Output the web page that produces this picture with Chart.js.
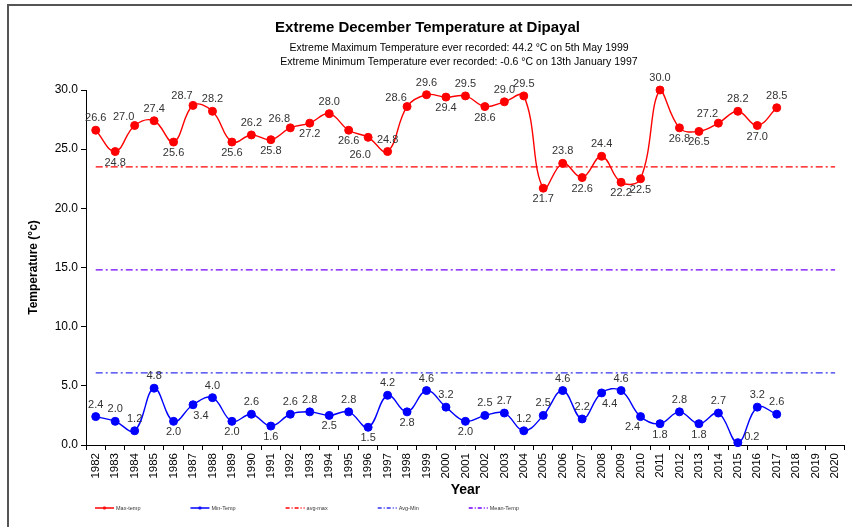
<!DOCTYPE html>
<html>
<head>
<meta charset="utf-8">
<script src="https://cdn.jsdelivr.net/npm/chart.js@4.4.1/dist/chart.umd.min.js"></script>
<style>
  html, body { margin: 0; padding: 0; background: #fff; }
</style>
</head>
<body>
<canvas id="myChart" width="852" height="527"></canvas>
<script>
const years = ['1982','1983','1984','1985','1986','1987','1988','1989','1990','1991',
  '1992','1993','1994','1995','1996','1997','1998','1999','2000','2001',
  '2002','2003','2004','2005','2006','2007','2008','2009','2010','2011',
  '2012','2013','2014','2015','2016','2017','2018','2019','2020'];

const maxTemp = [26.6, 24.8, 27.0, 27.4, 25.6, 28.7, 28.2, 25.6, 26.2, 25.8,
  26.8, 27.2, 28.0, 26.6, 26.0, 24.8, 28.6, 29.6, 29.4, 29.5,
  28.6, 29.0, 29.5, 21.7, 23.8, 22.6, 24.4, 22.2, 22.5, 30.0,
  26.8, 26.5, 27.2, 28.2, 27.0, 28.5];

const minTemp = [2.4, 2.0, 1.2, 4.8, 2.0, 3.4, 4.0, 2.0, 2.6, 1.6,
  2.6, 2.8, 2.5, 2.8, 1.5, 4.2, 2.8, 4.6, 3.2, 2.0,
  2.5, 2.7, 1.2, 2.5, 4.6, 2.2, 4.4, 4.6, 2.4, 1.8,
  2.8, 1.8, 2.7, 0.2, 3.2, 2.6];

const avgMax = 23.5;
const avgMin = 6.1;
const meanTemp = 14.8;

const yTicks = [0, 5, 10, 15, 20, 25, 30];

const chartTitle = 'Extreme December Temperature at Dipayal';
const subtitles = [
  'Extreme Maximum Temperature ever recorded: 44.2 \u00b0C on 5th May 1999',
  'Extreme Minimum Temperature ever recorded: -0.6 \u00b0C on 13th January 1997'
];

// where each value label sits next to its point
const maxLabelPos = ['a','b','al','a','b','al','a','b','a','b',
  'al','b','a','b','lb','a','al','a','b','a',
  'b','a','a','b','a','b','a','b','b','a',
  'b','b','al','a','b','a'];
const minLabelPos = ['a','a','a','a','b','br','a','b','a','b',
  'a','a','b','a','b','a','b','a','a','b',
  'a','a','a','a','a','a','br','a','bl','b',
  'a','b','a','r','a','a'];

const labelShift = { a: [0, -12], b: [0, 11], al: [-11, -9], bl: [-8, 10], lb: [-8, 18], br: [8, 11], r: [14, -6] };

const FONT = '"Liberation Sans", Arial, sans-serif';
Chart.defaults.font.family = FONT;
Chart.defaults.color = '#000';

const pointLabels = {
  id: 'pointLabels',
  afterDatasetsDraw(chart) {
    const ctx = chart.ctx;
    ctx.save();
    ctx.font = '11px ' + FONT;
    ctx.fillStyle = '#333';
    ctx.textAlign = 'center';
    ctx.textBaseline = 'middle';
    chart.data.datasets.forEach((ds, i) => {
      if (!ds.labelPos) return;
      chart.getDatasetMeta(i).data.forEach((pt, j) => {
        const s = labelShift[ds.labelPos[j]];
        ctx.fillText(ds.data[j].toFixed(1), pt.x + s[0], pt.y + s[1]);
      });
    });
    ctx.restore();
  }
};

const extras = {
  id: 'extras',
  afterDraw(chart) {
    const ctx = chart.ctx;
    ctx.save();
    // frame
    ctx.strokeStyle = '#555';
    ctx.lineWidth = 2;
    ctx.beginPath();
    ctx.moveTo(8, 527);
    ctx.lineTo(8, 5);
    ctx.lineTo(852, 5);
    ctx.stroke();

    // subtitles
    ctx.fillStyle = '#000';
    ctx.font = '10.5px ' + FONT;
    ctx.textAlign = 'center';
    ctx.textBaseline = 'middle';
    subtitles.forEach((t, i) => ctx.fillText(t, 459, 48 + i * 14));

    // legend
    ctx.font = '5.5px ' + FONT;
    ctx.textAlign = 'left';
    let x = 95;
    const y = 508;
    chart.data.datasets.forEach(ds => {
      ctx.globalAlpha = 0.75;
      ctx.strokeStyle = ds.borderColor;
      ctx.lineWidth = 2;
      ctx.setLineDash(ds.borderDash ? [4, 2, 1, 2] : []);
      ctx.beginPath();
      ctx.moveTo(x, y);
      ctx.lineTo(x + 19, y);
      ctx.stroke();
      ctx.setLineDash([]);
      if (ds.pointRadius) {
        ctx.fillStyle = ds.borderColor;
        ctx.beginPath();
        ctx.arc(x + 9.5, y, 1.8, 0, Math.PI * 2);
        ctx.fill();
      }
      ctx.globalAlpha = 1;
      ctx.fillStyle = '#333';
      ctx.fillText(ds.label, x + 21, y);
      x += 21 + ctx.measureText(ds.label).width + 50;
    });
    ctx.restore();
  }
};

const lineSet = (label, data, color, extra) => Object.assign({
  label: label,
  data: data,
  borderColor: color,
  backgroundColor: color,
  borderWidth: 1.4,
  pointRadius: 4,
  pointHoverRadius: 4,
  pointBorderWidth: 1,
  tension: 0.4,
  clip: false
}, extra);

const refSet = (label, value, color) => ({
  label: label,
  data: years.map(() => value),
  borderColor: color,
  borderWidth: 1.2,
  borderDash: [7, 3, 2, 3],
  pointRadius: 0,
  pointHoverRadius: 0,
  tension: 0
});

new Chart(document.getElementById('myChart').getContext('2d'), {
  type: 'line',
  data: {
    labels: years,
    datasets: [
      lineSet('Max-temp', maxTemp, '#ff0000', { labelPos: maxLabelPos }),
      lineSet('Min-Temp', minTemp, '#0000ff', { labelPos: minLabelPos }),
      refSet('avg-max', avgMax, '#ff0000'),
      refSet('Avg-Min', avgMin, '#3333ee'),
      refSet('Mean-Temp', meanTemp, '#7000ff')
    ]
  },
  options: {
    responsive: false,
    animation: false,
    devicePixelRatio: 1,
    layout: { padding: { left: 10, right: 7, top: 0, bottom: 27 } },
    plugins: {
      legend: { display: false },
      tooltip: { enabled: false },
      title: {
        display: true,
        text: chartTitle,
        color: '#000',
        font: { size: 15, weight: 'bold' },
        padding: { top: 19, bottom: 53 }
      }
    },
    scales: {
      x: {
        offset: true,
        grid: { drawOnChartArea: false, offset: true, tickLength: 5, color: '#000' },
        border: { color: '#000', width: 1 },
        ticks: { autoSkip: false, maxRotation: 90, minRotation: 90, padding: 3, color: '#000', font: { size: 11.5 } },
        title: { display: true, text: 'Year', color: '#000', font: { size: 14, weight: 'bold' }, padding: { top: 0, bottom: 1 } },
        afterFit: s => { s.height = 55; }
      },
      y: {
        min: yTicks[0],
        max: yTicks[yTicks.length - 1],
        afterBuildTicks: s => { s.ticks = yTicks.map(v => ({ value: v })); },
        grid: { drawOnChartArea: false, tickLength: 5, color: '#000' },
        border: { color: '#000', width: 1 },
        ticks: { padding: 3, color: '#000', font: { size: 12 }, callback: v => v.toFixed(1) },
        title: { display: true, text: 'Temperature (\u00b0c)', color: '#000', font: { size: 12, weight: 'bold' }, padding: { top: 16 } },
        afterFit: s => { s.width = 76; }
      }
    }
  },
  plugins: [pointLabels, extras]
});
</script>
</body>
</html>
